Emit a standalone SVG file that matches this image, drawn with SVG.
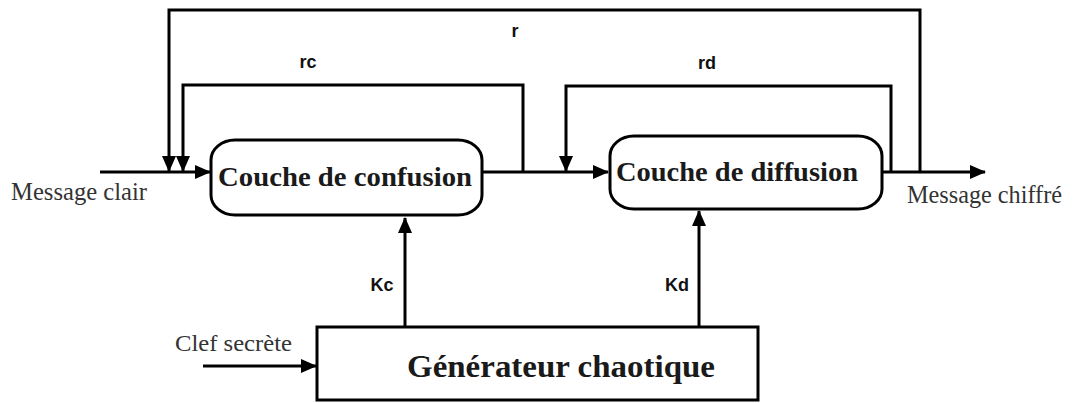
<svg xmlns="http://www.w3.org/2000/svg" width="1073" height="403" viewBox="0 0 1073 403">
<defs>
<marker id="ah" markerUnits="userSpaceOnUse" markerWidth="16" markerHeight="14" refX="15" refY="7" orient="auto">
<path d="M0,0 L16,7 L0,14 Z" fill="#000"/>
</marker>
<style>
.ln{fill:none;stroke:#000;stroke-width:3}
.box{fill:#fff;stroke:#000;stroke-width:3}
.bt{font-family:"Liberation Serif",serif;font-weight:bold;fill:#1a1a1a}
.st{font-family:"Liberation Serif",serif;fill:#333}
.lb{font-family:"Liberation Sans",sans-serif;font-weight:bold;font-size:18px;fill:#111}
</style>
</defs>
<rect width="1073" height="403" fill="#fff"/>
<g id="connectors">
<path class="ln" d="M100,172 L210,172" marker-end="url(#ah)"/>
<path class="ln" d="M920,172 L920,10 L169,10 L169,171" marker-end="url(#ah)"/>
<path class="ln" d="M523,172 L523,85 L183,85 L183,171" marker-end="url(#ah)"/>
<path class="ln" d="M482,172 L608,172" marker-end="url(#ah)"/>
<path class="ln" d="M891,172 L891,86 L566,86 L566,171" marker-end="url(#ah)"/>
<path class="ln" d="M882,172 L985,172" marker-end="url(#ah)"/>
<path class="ln" d="M405,327 L405,218" marker-end="url(#ah)"/>
<path class="ln" d="M699,327 L699,211" marker-end="url(#ah)"/>
<path class="ln" d="M203,366 L316,366" marker-end="url(#ah)"/>
<text class="lb" x="515" y="37" text-anchor="middle">r</text>
<text class="lb" x="308" y="68" text-anchor="middle">rc</text>
<text class="lb" x="707" y="69" text-anchor="middle">rd</text>
<text class="lb" x="382" y="291" text-anchor="middle" font-size="21">Kc</text>
<text class="lb" x="677" y="291" text-anchor="middle" font-size="21">Kd</text>
<text class="st" x="11" y="200" font-size="25" textLength="136" lengthAdjust="spacingAndGlyphs">Message clair</text>
<text class="st" x="907" y="203" font-size="25" textLength="155" lengthAdjust="spacingAndGlyphs">Message chiffré</text>
<text class="st" x="175" y="351" font-size="24" textLength="117" lengthAdjust="spacingAndGlyphs">Clef secrète</text>
</g>
<g id="confusion">
<rect class="box" x="211" y="140" width="271" height="75" rx="24" ry="20"/>
<text class="bt" x="218" y="186" font-size="27" textLength="254" lengthAdjust="spacingAndGlyphs">Couche de confusion</text>
</g>
<g id="diffusion">
<rect class="box" x="610" y="136" width="272" height="73" rx="24" ry="20"/>
<text class="bt" x="616" y="181" font-size="27" textLength="242" lengthAdjust="spacingAndGlyphs">Couche de diffusion</text>
</g>
<g id="generateur">
<rect class="box" x="317" y="327" width="441" height="73"/>
<text class="bt" x="407" y="377" font-size="32" textLength="308" lengthAdjust="spacingAndGlyphs">Générateur chaotique</text>
</g>
</svg>
